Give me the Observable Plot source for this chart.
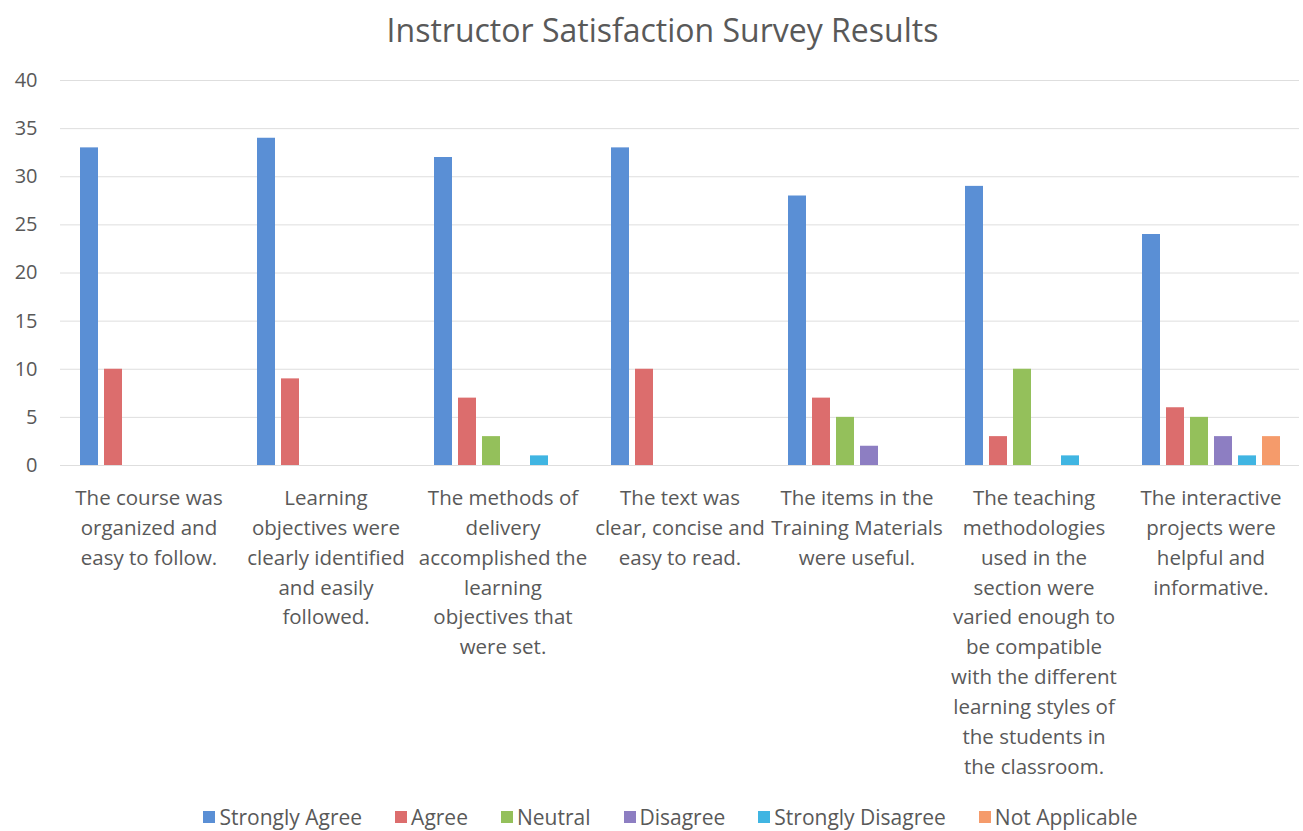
<!DOCTYPE html>
<html>
<head>
<meta charset="utf-8">
<script src="https://cdn.jsdelivr.net/npm/d3@7"></script>
<script src="https://cdn.jsdelivr.net/npm/@observablehq/plot@0.6"></script>
<style>
  html, body { margin: 0; padding: 0; background: #fff; }
  body { width: 1303px; height: 831px; font-family: "Open Sans", sans-serif; color: #595959; overflow: hidden; }
  #title { height: 60px; text-align: center; font-size: 32px; line-height: 60px; color: #595959; padding-left: 22px; }
  #legend { display: flex; justify-content: center; gap: 0 33px; font-size: 21px; color: #595959; margin-top: 8px; padding-left: 38px; }
  #legend .item { display: flex; align-items: center; }
  #legend .sw { width: 12px; height: 12px; margin-right: 4px; }
</style>
</head>
<body>
<div id="title">Instructor Satisfaction Survey Results</div>
<div id="chart"></div>
<div id="legend"></div>
<script>
const categories = [
  "The course was organized and easy to follow.",
  "Learning objectives were clearly identified and easily followed.",
  "The methods of delivery accomplished the learning objectives that were set.",
  "The text was clear, concise and easy to read.",
  "The items in the Training Materials were useful.",
  "The teaching methodologies used in the section were varied enough to be compatible with the different learning styles of the students in the classroom.",
  "The interactive projects were helpful and informative."
];
const tickLabels = [
  "The course was\norganized and\neasy to follow.",
  "Learning\nobjectives were\nclearly identified\nand easily\nfollowed.",
  "The methods of\ndelivery\naccomplished the\nlearning\nobjectives that\nwere set.",
  "The text was\nclear, concise and\neasy to read.",
  "The items in the\nTraining Materials\nwere useful.",
  "The teaching\nmethodologies\nused in the\nsection were\nvaried enough to\nbe compatible\nwith the different\nlearning styles of\nthe students in\nthe classroom.",
  "The interactive\nprojects were\nhelpful and\ninformative."
];
const series = ["Strongly Agree", "Agree", "Neutral", "Disagree", "Strongly Disagree", "Not Applicable"];
const colors = ["#5a8fd5", "#dc6d6d", "#94c05b", "#8d7ec2", "#40b5e2", "#f59b6b"];
const stronglyAgree    = [33, 34, 32, 33, 28, 29, 24];
const agree            = [10,  9,  7, 10,  7,  3,  6];
const neutral          = [ 0,  0,  3,  0,  5, 10,  5];
const disagree         = [ 0,  0,  0,  0,  2,  0,  3];
const stronglyDisagree = [ 0,  0,  1,  0,  0,  1,  1];
const notApplicable    = [ 0,  0,  0,  0,  0,  0,  3];
const yTicks = [0, 5, 10, 15, 20, 25, 30, 35, 40];

const valuesBySeries = [stronglyAgree, agree, neutral, disagree, stronglyDisagree, notApplicable];
const rows = [];
categories.forEach((c, i) => {
  series.forEach((s, j) => {
    rows.push({category: c, series: s, value: valuesBySeries[j][i]});
  });
});
const labelOf = new Map(categories.map((c, i) => [c, tickLabels[i]]));

const chart = Plot.plot({
  width: 1303,
  height: 735,
  marginTop: 20,
  marginLeft: 60,
  marginRight: 4,
  marginBottom: 330,
  style: {fontFamily: "Open Sans, sans-serif", color: "#595959", background: "#fff"},
  fx: {domain: categories, padding: 0},
  x: {domain: series, paddingInner: 0.25, paddingOuter: 0.8125, axis: null},
  y: {domain: [0, 40]},
  color: {domain: series, range: colors},
  marks: [
    Plot.gridY(yTicks, {stroke: "#dedede", strokeOpacity: 1, strokeWidth: 1}),
    Plot.axisY(yTicks, {tickSize: 0, tickPadding: 23, fontSize: 20, fill: "#595959", label: null}),
    Plot.barY(rows, {fx: "category", x: "series", y: "value", fill: "series"}),
    Plot.axisFx({tickSize: 0, tickPadding: 18, fontSize: 20.5, fill: "#595959", lineHeight: 1.46, tickFormat: d => labelOf.get(d), label: null, anchor: "bottom"})
  ]
});
document.getElementById("chart").appendChild(chart);

const legend = document.getElementById("legend");
series.forEach((s, i) => {
  const item = document.createElement("div");
  item.className = "item";
  const sw = document.createElement("span");
  sw.className = "sw";
  sw.style.background = colors[i];
  const t = document.createElement("span");
  t.textContent = s;
  item.appendChild(sw);
  item.appendChild(t);
  legend.appendChild(item);
});
</script>
</body>
</html>
